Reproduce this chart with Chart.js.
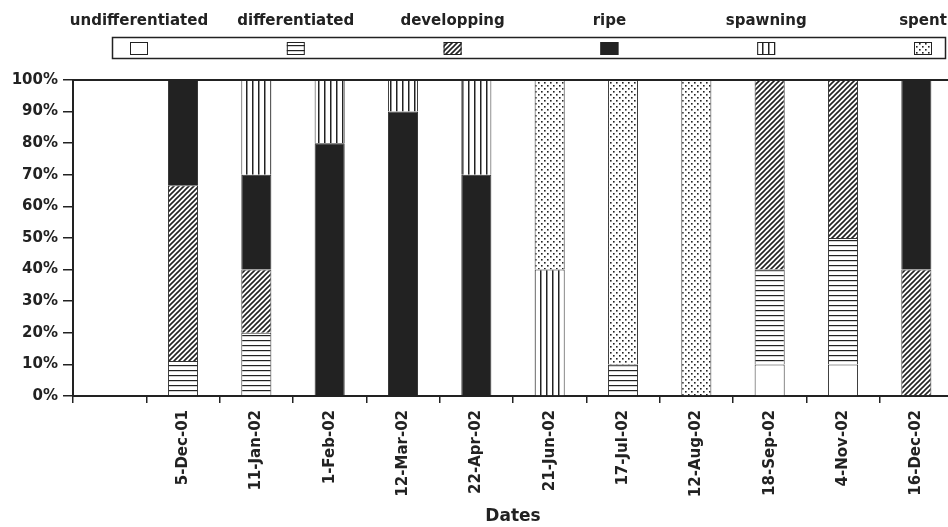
<!DOCTYPE html>
<html>
<head>
<meta charset="utf-8">
<script src="https://cdn.jsdelivr.net/npm/chart.js@4.4.1/dist/chart.umd.min.js"></script>
<style>
  html, body { margin: 0; padding: 0; background: #fff; overflow: hidden; }
  #wrap { width: 953px; height: 527px; }
</style>
</head>
<body>
<div id="wrap"><canvas id="stages"></canvas></div>
<script>
const categories = ['', '5-Dec-01', '11-Jan-02', '1-Feb-02', '12-Mar-02', '22-Apr-02',
  '21-Jun-02', '17-Jul-02', '12-Aug-02', '18-Sep-02', '4-Nov-02', '16-Dec-02'];

// percentages per gonad stage
const undifferentiated = [null, null, null, null, null, null, null, null, null, 10, 10, null];
const differentiated   = [null, 11.1, 20, null, null, null, null, 10, null, 30, 40, null];
const developping      = [null, 55.6, 20, null, null, null, null, null, null, 60, 50, 40];
const ripe             = [null, 33.3, 30, 80, 90, 70, null, null, null, null, null, 60];
const spawning         = [null, null, 30, 20, 10, 30, 40, null, null, null, null, null];
const spent            = [null, null, null, null, null, null, 60, 90, 100, null, null, null];

const yTicks = [0, 10, 20, 30, 40, 50, 60, 70, 80, 90, 100];

const INK = '#222';
const FONT = 'DejaVu Sans';

function makePattern(w, h, draw) {
  const c = document.createElement('canvas');
  c.width = w; c.height = h;
  const g = c.getContext('2d');
  g.fillStyle = '#fff';
  g.fillRect(0, 0, w, h);
  g.fillStyle = INK;
  g.strokeStyle = INK;
  draw(g);
  return document.createElement('canvas').getContext('2d').createPattern(c, 'repeat');
}

const patWhite = '#fff';
const patHoriz = makePattern(1, 5, g => g.fillRect(0, 0, 1, 1.2));
const patDiag = makePattern(5, 5, g => {
  g.lineWidth = 1.6;
  g.beginPath();
  g.moveTo(-1, 6); g.lineTo(6, -1);
  g.moveTo(-1, 1); g.lineTo(1, -1);
  g.moveTo(4, 6); g.lineTo(6, 4);
  g.stroke();
});
const patSolid = INK;
const patVert = makePattern(6, 1, g => g.fillRect(0, 0, 1.5, 1));
const patDots = makePattern(6, 6, g => {
  g.fillRect(1, 1, 1.6, 1.6);
  g.fillRect(4, 4, 1.6, 1.6);
});

function ds(label, data, fill) {
  return {
    label: label, data: data, backgroundColor: fill,
    borderColor: '#333', borderWidth: 1,
    categoryPercentage: 1, barPercentage: 0.41
  };
}

// legend drawn as in the original: labels above a framed row of swatches
const legendRow = {
  id: 'legendRow',
  afterDraw(chart) {
    const ctx = chart.ctx;
    ctx.save();
    ctx.lineWidth = 1.5;
    ctx.strokeStyle = INK;
    ctx.strokeRect(112.5, 37.5, 833, 21);
    ctx.font = 'bold 15px "' + FONT + '"';
    ctx.textAlign = 'center';
    ctx.textBaseline = 'middle';
    ctx.fillStyle = INK;
    chart.data.datasets.forEach((d, i) => {
      const cx = 139 + i * 156.8;
      ctx.fillText(d.label, cx, 21);
      ctx.fillStyle = d.backgroundColor;
      ctx.fillRect(cx - 9, 42, 18, 13);
      ctx.lineWidth = 1;
      ctx.strokeRect(cx - 9 + 0.5, 42.5, 17, 12);
      ctx.fillStyle = INK;
    });
    // top frame of the plot
    const a = chart.chartArea;
    ctx.lineWidth = 2;
    ctx.beginPath();
    ctx.moveTo(a.left, a.top);
    ctx.lineTo(a.right, a.top);
    ctx.stroke();
    ctx.restore();
  }
};

new Chart(document.getElementById('stages'), {
  type: 'bar',
  data: {
    labels: categories,
    datasets: [
      ds('undifferentiated', undifferentiated, patWhite),
      ds('differentiated', differentiated, patHoriz),
      ds('developping', developping, patDiag),
      ds('ripe', ripe, patSolid),
      ds('spawning', spawning, patVert),
      ds('spent', spent, patDots)
    ]
  },
  options: {
    responsive: true,
    maintainAspectRatio: false,
    animation: false,
    layout: { padding: { top: 80, left: 0, right: 0, bottom: 0 } },
    plugins: { legend: { display: false }, tooltip: { enabled: false } },
    scales: {
      x: {
        stacked: true,
        grid: { drawOnChartArea: false, drawTicks: true, tickLength: 7, color: INK, lineWidth: 1.5 },
        border: { display: true, color: INK, width: 2 },
        ticks: {
          autoSkip: false, maxRotation: 90, minRotation: 90, padding: 7,
          color: INK, font: { family: FONT, size: 15, weight: 'bold' }
        },
        title: {
          display: true, text: 'Dates', color: INK,
          font: { family: FONT, size: 17, weight: 'bold' },
          padding: { top: 0, bottom: 0 }
        },
        afterFit(s) { s.height = 131; }
      },
      y: {
        stacked: true, min: 0, max: 100,
        grid: { drawOnChartArea: false, drawTicks: true, tickLength: 10, color: INK, lineWidth: 1.5 },
        border: { display: true, color: INK, width: 2 },
        afterBuildTicks(s) { s.ticks = yTicks.map(v => ({ value: v })); },
        ticks: {
          padding: 5, color: INK,
          font: { family: FONT, size: 15, weight: 'bold' },
          callback: v => v + '%'
        },
        afterFit(s) { s.width = 73; }
      }
    }
  },
  plugins: [legendRow]
});
</script>
</body>
</html>
